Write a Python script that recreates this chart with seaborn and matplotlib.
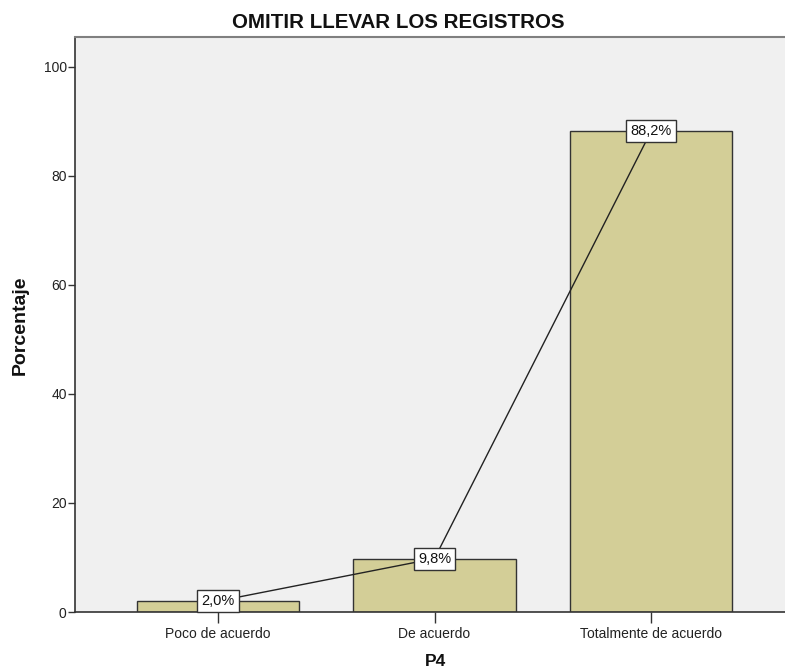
import matplotlib
matplotlib.use("Agg")
import matplotlib.pyplot as plt
import seaborn as sns
import pandas as pd

categories = ["Poco de acuerdo", "De acuerdo", "Totalmente de acuerdo"]
percentages = [2.0, 9.8, 88.2]
y_ticks = [0, 20, 40, 60, 80, 100]

title = "OMITIR LLEVAR LOS REGISTROS"
x_label = "P4"
y_label = "Porcentaje"

df = pd.DataFrame({"P4": categories, "Porcentaje": percentages})

sns.set_theme(style="white")
plt.rcParams["font.family"] = ["Liberation Sans", "DejaVu Sans"]

fig = plt.figure(figsize=(7.85, 6.72), dpi=100)
W, H = 785, 672
left_px, right_px, top_px, bottom_px = 75, 794, 37, 612
ax = fig.add_axes([left_px / W, 1 - bottom_px / H,
                   (right_px - left_px) / W, (bottom_px - top_px) / H])
ax.set_facecolor("#F0F0F0")

sns.barplot(data=df, x="P4", y="Porcentaje", order=categories, ax=ax,
            color="#D3CE97", saturation=1, width=0.75,
            edgecolor="#333333", linewidth=1.0, zorder=2)

ax.plot(categories, percentages, color="#222222", linewidth=1.0, zorder=3)

for cat, val in zip(categories, percentages):
    ax.text(cat, val, f"{val:.1f}%".replace(".", ","), ha="center", va="center",
            fontsize=10.5, color="#111111", zorder=4,
            bbox=dict(boxstyle="square,pad=0.28", facecolor="white",
                      edgecolor="#333333", linewidth=1.0))

ax.set_xlim(-0.66, 2.66)
ax.set_ylim(0, 105.5)
ax.set_yticks(y_ticks)
ax.set_yticklabels([str(t) for t in y_ticks])
ax.set_xlabel("")
ax.set_ylabel("")

for side in ["left", "bottom"]:
    ax.spines[side].set_color("#333333")
    ax.spines[side].set_linewidth(1.2)
ax.spines["top"].set_color("#808080")
ax.spines["top"].set_linewidth(1.5)
ax.spines["right"].set_color("#808080")

ax.tick_params(axis="y", which="both", left=True, length=5, width=1,
               color="#333333", labelsize=10, labelcolor="#222222", pad=1)
ax.tick_params(axis="x", which="both", bottom=True, length=8, width=1,
               color="#333333", labelsize=10, labelcolor="#222222", pad=3)

fig.text(398 / W, 1 - 22 / H, title, ha="center", va="center",
         fontsize=14.8, fontweight="bold", color="#111111")
fig.text(436 / W, 1 - 661 / H, x_label, ha="center", va="center",
         fontsize=12.5, fontweight="bold", color="#111111")
fig.text(20 / W, 1 - 325 / H, y_label, ha="center", va="center",
         rotation=90, fontsize=14, fontweight="bold", color="#111111")

fig.savefig("out.png", dpi=100, facecolor="white")
